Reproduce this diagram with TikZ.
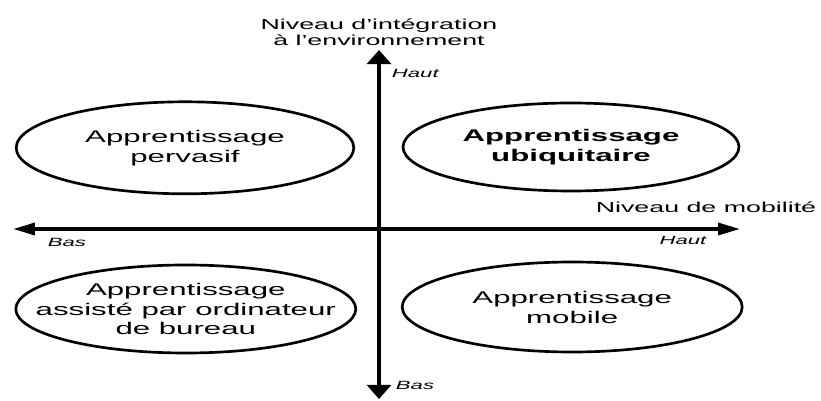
\documentclass[tikz,border=0pt]{standalone}
\usepackage{fontspec}
\setmainfont[FakeStretch=1.85]{Liberation Sans}
\usetikzlibrary{arrows.meta}

\begin{document}
\begin{tikzpicture}[
	quad/.style={line width=1.9pt},
	quadtext/.style={align=center, font=\fontsize{12}{14.2}\selectfont},
	level/.style={font=\fontsize{8.5}{10}\selectfont\itshape},
	axislabel/.style={align=center, font=\fontsize{10.3}{11.4}\selectfont},
]
	\useasboundingbox (-9.475, -4.3) rectangle (11.05, 5.725);

	\coordinate (up) at (0, 4.475);
	\coordinate (down) at (0, -4.25);
	\coordinate (left) at (-9.15, 0);
	\coordinate (right) at (9.025, 0);

	% the two axes
	\draw[line width=3.2pt, {Triangle[width=17pt, length=10pt]}-{Triangle[width=17pt, length=10pt]}] (down) -- (up);
	\draw[line width=2.4pt, {Triangle[width=8.5pt, length=15.6pt]}-{Triangle[width=8.5pt, length=15.6pt]}] (left) -- (right);

	\node[axislabel] (integration) at (0, 4.925) {Niveau d'intégration\\à l'environnement};
	\node[axislabel] (mobilite) at (8.175, 0.55) {Niveau de mobilité};
	\node[level, right] (hautv) at (0.2, 3.9) {Haut};
	\node[level, right] (basv) at (0.3, -3.9) {Bas};
	\node[level] (bash) at (-7.8, -0.325) {Bas};
	\node[level] (hauth) at (7.6, -0.275) {Haut};

	% one ellipse per quadrant
	\draw[quad] (-4.85, 2.03) node[quadtext] (pervasif) {Apprentissage\\pervasif} ellipse (4.22 and 1.15);
	\draw[quad] (4.8, 2.05) node[quadtext, font=\fontsize{12}{14.2}\selectfont\bfseries] (ubiquitaire) {Apprentissage\\ubiquitaire} ellipse (4.2 and 1.1);
	\draw[quad] (-4.83, -2.0) node[quadtext] (bureau) {Apprentissage\\assisté par ordinateur\\de bureau} ellipse (4.25 and 1.1);
	\draw[quad] (4.83, -1.95) node[quadtext] (mobile) {Apprentissage\\mobile} ellipse (4.25 and 1.125);
\end{tikzpicture}
\end{document}
